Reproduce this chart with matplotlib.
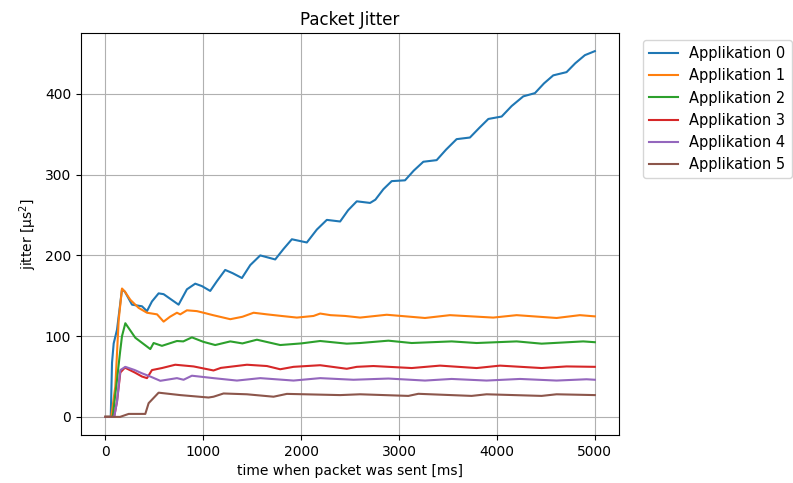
import matplotlib
matplotlib.use("Agg")
import matplotlib.pyplot as plt

# time [ms] and jitter values per application
t0 = [0, 55, 68, 85, 119, 170, 200, 272, 374, 425, 476, 544, 595, 748, 833, 918, 986, 1071, 1139,
      1224, 1300, 1395, 1480, 1582, 1735, 1820, 1905, 2058, 2160, 2262, 2398, 2480, 2568, 2704,
      2758, 2840, 2925, 3061, 3150, 3248, 3384, 3480, 3588, 3724, 3820, 3912, 4048, 4150, 4269,
      4388, 4480, 4575, 4711, 4800, 4898, 5000]
app0 = [0, 0, 67, 91, 108, 158, 155, 139, 137, 131, 143, 153, 152, 139, 158, 165, 162, 156, 168,
        182, 178, 172, 188, 200, 195, 208, 220, 216, 232, 244, 242, 256, 267, 265,
        269, 282, 292, 293, 305, 316, 318, 331, 344, 346, 358, 369, 372, 385, 397,
        401, 413, 423, 427, 438, 448, 453]

t1 = [0, 60, 102, 136, 170, 200, 255, 340, 425, 528, 595, 660, 731, 765, 833, 935, 1003, 1100,
      1276, 1400, 1514, 1650, 1800, 1956, 2126, 2194, 2300, 2450, 2602, 2874, 3265, 3520, 3962,
      4201, 4609, 4847, 5000]
app1 = [0, 0, 38, 120, 159, 155, 145, 135, 129, 127, 118, 124, 129, 127, 132, 131, 129, 126,
        121, 124, 129, 127, 125, 123, 125, 128, 126, 125, 123, 126.5, 122.5, 126, 123,
        126, 122.5, 126, 124.5]

t2 = [0, 75, 119, 150, 170, 204, 238, 306, 459, 493, 578, 731, 796, 884, 1000, 1122, 1276, 1400,
      1548, 1786, 2000, 2194, 2466, 2602, 2891, 3129, 3537, 3792, 4201, 4456, 4881, 5000]
app2 = [0, 0, 46, 80, 100, 116, 110, 98, 84, 91.5, 88, 94, 93.5, 98.5, 93, 89, 93.5, 91,
        95.6, 89, 91, 94, 90.7, 91.5, 94.4, 91.5, 93.5, 91.5, 93.5, 90.7, 93.5, 92.5]

t3 = [0, 90, 119, 153, 200, 300, 374, 425, 476, 578, 714, 901, 1105, 1180, 1446, 1650, 1786,
      1922, 2194, 2466, 2568, 2738, 3129, 3418, 3792, 4031, 4456, 4711, 5000]
app3 = [0, 0, 19, 55, 61, 55, 50, 48, 58, 60.5, 64.6, 62.5, 57.5, 60.7, 64.6, 63, 59,
        62, 64, 59.6, 62, 63, 60.5, 63.5, 60.5, 63.5, 60.5, 62.5, 62]

t4 = [0, 90, 119, 153, 204, 300, 374, 459, 561, 731, 799, 884, 1105, 1344, 1582, 1922, 2194,
      2534, 2891, 3265, 3537, 3894, 4235, 4609, 4915, 5000]
app4 = [0, 0, 19, 58, 62, 58, 54, 50, 44.7, 48, 46, 51, 48, 45, 48, 45, 48,
        46, 47.5, 45, 47, 45, 47, 45, 46.6, 46]

t5 = [0, 150, 238, 408, 442, 544, 765, 1054, 1105, 1207, 1446, 1718, 1854, 2398, 2602, 3095,
      3197, 3741, 3894, 4456, 4609, 5000]
app5 = [0, 0, 3.7, 3.7, 17, 30, 27, 24, 25, 29, 28, 25, 28.5, 27, 28, 26,
        28.6, 26, 28, 26, 28, 27]

times = [t0, t1, t2, t3, t4, t5]
series = [app0, app1, app2, app3, app4, app5]
labels = ["Applikation %d" % i for i in range(6)]

fig, ax = plt.subplots(figsize=(7.93, 4.83), dpi=100)
for t, s, lab in zip(times, series, labels):
    ax.plot(t, s, label=lab, linewidth=1.5)

ax.set_title("Packet Jitter")
ax.set_xlabel("time when packet was sent [ms]")
ax.set_ylabel("jitter [µs$^2$]")
ax.grid(True)
ax.legend(loc="upper left", bbox_to_anchor=(1.03, 1), fontsize=10.5)
fig.subplots_adjust(left=0.102, right=0.781, top=0.932, bottom=0.099)
fig.savefig("out.png", dpi=100)
